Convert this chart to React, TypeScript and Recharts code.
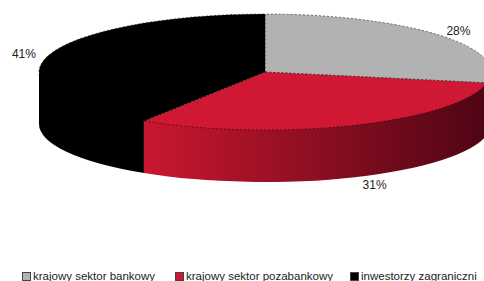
import React from 'react';
import { PieChart, Pie, Cell, Legend } from 'recharts';

const categories = ['krajowy sektor bankowy', 'krajowy sektor pozabankowy', 'inwestorzy zagraniczni'];
const shares = [28, 31, 41];
const topColors = ['#B2B2B2', '#D01834', '#000000'];
const sideFrom = ['#8C8C8C', '#CA1730', '#000000'];
const sideTo = ['#5A5A5A', '#4E0514', '#000000'];
const legendSlots = [153, 175, 130];

const data = categories.map((name, i) => ({ name, value: shares[i] }));

const TILT = 0.2566; // vertical squash of the top face
const DEPTH = 52;
const RAD = Math.PI / 180;

const pt = (cx: number, cy: number, rx: number, ry: number, a: number, dy = 0) =>
  `${cx + rx * Math.cos(a * RAD)},${cy - ry * Math.sin(a * RAD) + dy}`;

// elliptical slice with a visible front wall
const Slice3D = (props: any) => {
  const { cx, cy, outerRadius, startAngle, endAngle, index } = props;
  const rx = outerRadius;
  const ry = outerRadius * TILT;
  const lo = Math.min(startAngle, endAngle);
  const hi = Math.max(startAngle, endAngle);
  const large = hi - lo > 180 ? 1 : 0;
  const top = `M${cx},${cy} L${pt(cx, cy, rx, ry, hi)} A${rx},${ry} 0 ${large} 1 ${pt(cx, cy, rx, ry, lo)} Z`;

  const walls: string[] = [];
  for (let k = -2; k <= 1; k++) {
    const a1 = Math.max(lo, -180 + 360 * k);
    const a2 = Math.min(hi, 360 * k);
    if (a2 - a1 > 0.01) {
      // upper edge tucked under the top face so no seam shows
      walls.push(
        `M${pt(cx, cy, rx, ry, a2, -2)} A${rx},${ry} 0 0 1 ${pt(cx, cy, rx, ry, a1, -2)} ` +
          `L${pt(cx, cy, rx, ry, a1, DEPTH)} A${rx},${ry} 0 0 0 ${pt(cx, cy, rx, ry, a2, DEPTH)} Z`
      );
    }
  }
  const gid = `side-${index}`;
  return (
    <g>
      <defs>
        <linearGradient id={gid} x1="0" y1="0" x2="1" y2="0">
          <stop offset="0" stopColor={sideFrom[index]} />
          <stop offset="1" stopColor={sideTo[index]} />
        </linearGradient>
      </defs>
      {walls.map((d, i) => (
        <path key={i} d={d} fill={`url(#${gid})`} />
      ))}
      <path d={top} fill={topColors[index]} stroke="#000" strokeWidth={0.5} strokeDasharray="2 2" />
    </g>
  );
};

const renderLabel = (props: any) => {
  const { cx, cy, midAngle, outerRadius, percent } = props;
  const s = Math.sin(midAngle * RAD);
  const x = cx + (outerRadius + (s < 0 ? 50 : 25)) * Math.cos(midAngle * RAD);
  const y = cy - (outerRadius * TILT + 6) * s + (s < 0 ? DEPTH + 2 : 0);
  return (
    <text x={x} y={y} textAnchor="middle" dominantBaseline="central" fontSize={12} fill="#222"
      fontFamily="'Liberation Sans', Arial, sans-serif">
      {`${Math.round(percent * 100)}%`}
    </text>
  );
};

const renderLegend = () => (
  <div style={{ display: 'flex', paddingLeft: 22, whiteSpace: 'nowrap', fontFamily: "'Liberation Sans', Arial, sans-serif", fontSize: 11.5, color: '#222' }}>
    {categories.map((c, i) => (
      <div key={c} style={{ display: 'flex', alignItems: 'center', flexShrink: 0, width: legendSlots[i] }}>
        <span style={{ display: 'inline-block', width: 7, height: 7, background: topColors[i], border: '1px solid #444', marginRight: 2 }} />
        <span>{c}</span>
      </div>
    ))}
  </div>
);

export default function App() {
  return (
    <div style={{ position: 'absolute', left: 0, top: 0, background: '#fff' }}>
      <PieChart width={484} height={281} margin={{ top: 0, right: 0, bottom: 0, left: 0 }}>
        <Pie
          data={data}
          dataKey="value"
          nameKey="name"
          cx={265}
          cy={72}
          outerRadius={226}
          startAngle={90}
          endAngle={-270}
          stroke="none"
          inactiveShape={Slice3D}
          activeShape={Slice3D}
          shape={Slice3D}
          label={renderLabel}
          labelLine={false}
          isAnimationActive={false}
        >
          {data.map((d, i) => (
            <Cell key={d.name} fill={topColors[i]} />
          ))}
        </Pie>
        <Legend content={renderLegend} wrapperStyle={{ left: 0, top: 270, width: 484 }} />
      </PieChart>
    </div>
  );
}
